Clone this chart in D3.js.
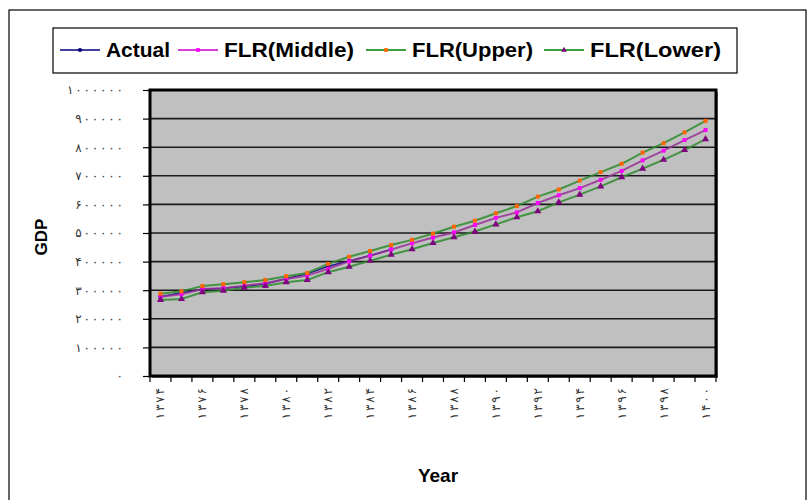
<!DOCTYPE html>
<html><head><meta charset="utf-8">
<script src="https://cdn.jsdelivr.net/npm/d3@7/dist/d3.min.js"></script>
<style>body{margin:0;background:#fff}svg{display:block}</style></head>
<body><svg id="c" width="809" height="500"></svg>
<script>
const years = [1374,1375,1376,1377,1378,1379,1380,1381,1382,1383,1384,1385,1386,1387,1388,1389,1390,1391,1392,1393,1394,1395,1396,1397,1398,1399,1400];
const actual = [277000,291000,303000,307000,313000,322000,341000,357000,384000,402000,421000,442000];
const flrMiddle = [277000,286000,304000,307000,316000,324000,339000,351000,375000,401000,420000,442000,464000,484000,502000,528000,553000,572000,605000,632000,657000,686000,717000,754000,788000,825000,860000];
const flrUpper = [288000,296000,315000,321000,328000,336000,349000,360000,392000,417000,437000,458000,476000,498000,522000,543000,569000,594000,627000,652000,683000,713000,742000,781000,814000,852000,892000];
const flrLower = [266000,269000,293000,298000,309000,315000,328000,336000,363000,382000,403000,424000,443000,465000,485000,505000,530000,555000,576000,607000,634000,663000,695000,725000,756000,790000,828000];
const yTicks = [0,100000,200000,300000,400000,500000,600000,700000,800000,900000,1000000];
const xTickYears = [1374,1376,1378,1380,1382,1384,1386,1388,1390,1392,1394,1396,1398,1400];
const seriesNames = ["Actual","FLR(Middle)","FLR(Upper)","FLR(Lower)"];

const fa = s => String(s).replace(/\d/g, d => "۰۱۲۳۴۵۶۷۸۹"[+d]);
const CH = 8.3; // advance per digit in the reference

const svg = d3.select("#c");
const L = 150, R = 716, T = 90, B = 376;

// outer frame
svg.append("rect").attr("x",9).attr("y",10).attr("width",797).attr("height",510)
  .attr("fill","#fff").attr("stroke","#000").attr("stroke-width",1.2);

const x = d3.scaleBand().domain(years).range([L,R]).padding(0);
const y = d3.scaleLinear().domain([0,1000000]).range([B,T]);
const cx = d => x(d) + x.bandwidth()/2;

// plot background
svg.append("rect").attr("x",L+2).attr("y",T+2).attr("width",R-L).attr("height",B-T).attr("fill","#808080");
svg.append("rect").attr("x",L).attr("y",T).attr("width",R-L).attr("height",B-T).attr("fill","#c0c0c0");

// gridlines
svg.append("g").selectAll("line").data(yTicks.slice(1,-1)).join("line")
  .attr("x1",L).attr("x2",R).attr("y1",d=>y(d)).attr("y2",d=>y(d))
  .attr("stroke","#1a1a1a").attr("stroke-width",1.6);

// axes
const yAxis = d3.axisLeft(y).tickValues(yTicks).tickSize(7).tickPadding(20).tickFormat(d=>fa(d));
const gy = svg.append("g").attr("transform",`translate(${L},0)`).call(yAxis);
gy.select(".domain").remove();
gy.selectAll(".tick line").attr("stroke","#000").attr("stroke-width",1.2);
gy.selectAll(".tick text").attr("font-family","DejaVu Sans").attr("font-size",12).attr("fill","#333")
  .each(function(d){ const n = fa(d).length; if(n>1) d3.select(this).attr("textLength", n*CH-2).attr("lengthAdjust","spacing"); });

const xAxis = d3.axisBottom(x).tickSize(0).tickFormat("");
const gx = svg.append("g").attr("transform",`translate(0,${B})`).call(xAxis);
gx.select(".domain").remove();
// tick marks at band boundaries
svg.append("g").selectAll("line").data(years.concat(["end"])).join("line")
  .attr("x1",d=>d==="end"?R:x(d)).attr("x2",d=>d==="end"?R:x(d))
  .attr("y1",B).attr("y2",B+6).attr("stroke","#000").attr("stroke-width",1.2);
svg.append("g").selectAll("text").data(xTickYears).join("text")
  .attr("transform",d=>`translate(${cx(d)+4},388) rotate(-90)`)
  .attr("text-anchor","end")
  .attr("font-family","DejaVu Sans").attr("font-size",12)
  .attr("textLength",4*CH-2).attr("lengthAdjust","spacing")
  .attr("fill","#333").text(d=>fa(d));

// plot border
svg.append("rect").attr("x",L).attr("y",T).attr("width",R-L).attr("height",B-T)
  .attr("fill","none").attr("stroke","#000").attr("stroke-width",3);

const line = d3.line().x((d,i)=>cx(years[i])).y(d=>y(d));
const styles = [
  {data:actual, stroke:"#000080", w:1.5, marker:"circle", mfill:"#000080"},
  {data:flrMiddle, stroke:"#993399", w:2, marker:"square", mfill:"#ff00ff"},
  {data:flrUpper, stroke:"#2e8b2e", w:2, marker:"square", mfill:"#ff6600"},
  {data:flrLower, stroke:"#2e8b2e", w:2, marker:"triangle", mfill:"#800080"}
];
const sym = {circle:d3.symbolCircle, square:d3.symbolSquare, triangle:d3.symbolTriangle};
styles.forEach(s=>{
  svg.append("path").datum(s.data).attr("d",line).attr("fill","none")
    .attr("stroke",s.stroke).attr("stroke-width",s.w).attr("opacity",0.85);
  svg.append("g").selectAll("path").data(s.data).join("path")
    .attr("transform",(d,i)=>`translate(${cx(years[i])},${y(d)})`)
    .attr("d",d3.symbol().type(sym[s.marker]).size(s.marker==="triangle"?22:16))
    .attr("fill",s.mfill);
});

// legend
svg.append("rect").attr("x",53).attr("y",28).attr("width",684).attr("height",45)
  .attr("fill","#fff").attr("stroke","#000").attr("stroke-width",1.2);
const legX = [60,178,366,544];
const legTextLen = [64,130,121,131];
const legStroke = ["#000080","#cc00cc","#008000","#008000"];
styles.forEach((s,i)=>{
  const g = svg.append("g").attr("transform",`translate(${legX[i]},50)`);
  g.append("line").attr("x1",0).attr("x2",40).attr("stroke",legStroke[i]).attr("stroke-width",1.5);
  g.append("path").attr("transform","translate(20,0)")
    .attr("d",d3.symbol().type(sym[s.marker]).size(14)).attr("fill",s.mfill);
  g.append("text").attr("x",46).attr("y",7).attr("font-family","Liberation Sans, Arial")
    .attr("font-weight","bold").attr("font-size",20).attr("fill","#000")
    .attr("textLength",legTextLen[i]).attr("lengthAdjust","spacingAndGlyphs").text(seriesNames[i]);
});

// axis titles
svg.append("text").attr("transform","translate(47,237) rotate(-90)").attr("text-anchor","middle")
  .attr("font-family","Liberation Sans, Arial").attr("font-weight","bold").attr("font-size",17).text("GDP");
svg.append("text").attr("x",438).attr("y",482).attr("text-anchor","middle")
  .attr("font-family","Liberation Sans, Arial").attr("font-weight","bold").attr("font-size",19).text("Year");
</script></body></html>
